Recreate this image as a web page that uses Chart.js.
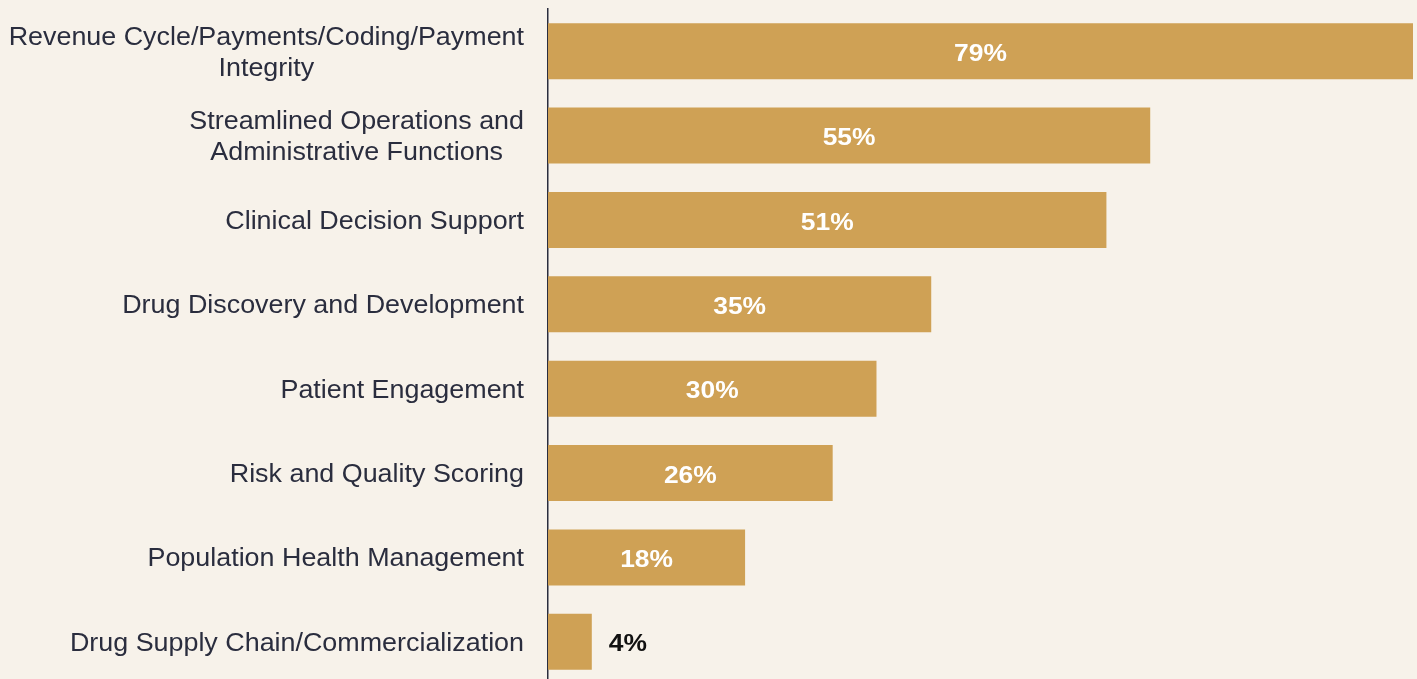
<!DOCTYPE html>
<html>
<head>
<meta charset="utf-8">
<script src="https://cdn.jsdelivr.net/npm/chart.js@4.4.1/dist/chart.umd.min.js"></script>
<style>
  html, body { margin: 0; padding: 0; background: #f7f2ea; overflow: hidden; }
  #wrap { position: relative; width: 1417px; height: 690px; }
</style>
</head>
<body>
<div id="wrap"><canvas id="chart"></canvas></div>
<script>
// ── Data ────────────────────────────────────────────────────────────────────
const categories = [
  ['Revenue Cycle/Payments/Coding/Payment', 'Integrity'],
  ['Streamlined Operations and', 'Administrative Functions'],
  ['Clinical Decision Support'],
  ['Drug Discovery and Development'],
  ['Patient Engagement'],
  ['Risk and Quality Scoring'],
  ['Population Health Management'],
  ['Drug Supply Chain/Commercialization'],
];
const shares = [79, 55, 51, 35, 30, 26, 18, 4];

const BAR = '#cfa155';
const INK = '#2a2d3e';
const FONT = '"Liberation Sans", Arial, sans-serif';
// The source font runs a little wider than Liberation Sans; stretch to match.
const STRETCH = 1.075;
const BOLD_STRETCH = 1.1;

// Category labels: each block right-aligned to the axis, lines centred
// inside the block (so "Integrity" sits under the middle of its first line).
const categoryLabels = {
  id: 'categoryLabels',
  afterDraw(chart) {
    const { ctx, chartArea } = chart;
    const y = chart.scales.y;
    ctx.save();
    ctx.font = `25px ${FONT}`;
    ctx.fillStyle = INK;
    ctx.textAlign = 'center';
    ctx.textBaseline = 'middle';
    const right = chartArea.left - 24;
    const lineH = 31;
    categories.forEach((lines, i) => {
      const cy = y.getPixelForValue(i) + 2;
      const w = Math.max(...lines.map((l) => ctx.measureText(l).width)) * STRETCH;
      const cx = right - w / 2;
      const top = cy - (lines.length - 1) * lineH / 2;
      lines.forEach((l, j) => {
        ctx.save();
        ctx.translate(cx, top + j * lineH);
        ctx.scale(STRETCH, 1);
        ctx.fillText(l, 0, 0);
        ctx.restore();
      });
    });
    ctx.restore();
  },
};

// Percent labels: white inside the bar, black past the end when it won't fit.
const valueLabels = {
  id: 'valueLabels',
  afterDatasetsDraw(chart) {
    const { ctx } = chart;
    const meta = chart.getDatasetMeta(0);
    ctx.save();
    ctx.font = `bold 24px ${FONT}`;
    ctx.textBaseline = 'middle';
    meta.data.forEach((bar, i) => {
      const text = shares[i] + '%';
      const w = ctx.measureText(text).width * BOLD_STRETCH;
      const barW = bar.x - bar.base;
      ctx.save();
      if (barW > w + 20) {
        ctx.fillStyle = '#ffffff';
        ctx.textAlign = 'center';
        ctx.translate((bar.x + bar.base) / 2, bar.y + 3);
      } else {
        ctx.fillStyle = '#111111';
        ctx.textAlign = 'left';
        ctx.translate(bar.x + 17, bar.y + 3);
      }
      ctx.scale(BOLD_STRETCH, 1);
      ctx.fillText(text, 0, 0);
      ctx.restore();
    });
    ctx.restore();
  },
};

new Chart(document.getElementById('chart'), {
  type: 'bar',
  plugins: [categoryLabels, valueLabels],
  data: {
    labels: categories.map((c) => c.join(' ')),
    datasets: [{
      data: shares,
      backgroundColor: BAR,
      borderWidth: 0,
      barPercentage: 0.663,
      categoryPercentage: 1,
    }],
  },
  options: {
    indexAxis: 'y',
    responsive: true,
    maintainAspectRatio: false,
    animation: false,
    devicePixelRatio: 1,
    layout: { padding: { top: 9, bottom: 6, left: 548, right: 4 } },
    plugins: { legend: { display: false }, tooltip: { enabled: false } },
    scales: {
      x: { display: false, min: 0, max: 79 },
      y: {
        grid: { display: false, drawTicks: false },
        border: { display: true, color: INK, width: 1.5 },
        ticks: { display: false },
      },
    },
  },
});
</script>
</body>
</html>
